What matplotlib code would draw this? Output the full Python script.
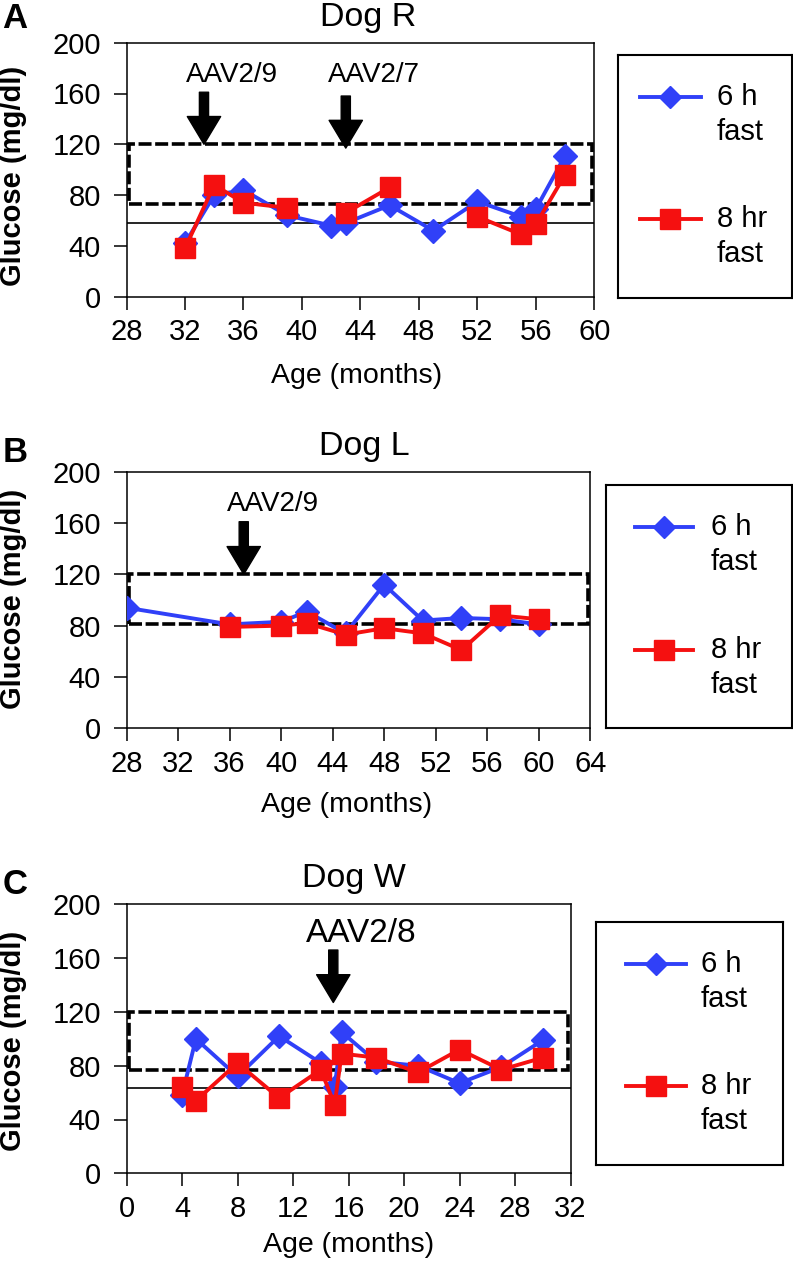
import numpy as np
import matplotlib
matplotlib.use('Agg')
import matplotlib.pyplot as plt
import matplotlib.transforms as mtransforms
from matplotlib.patches import Rectangle

plt.rcParams['font.family'] = ['Liberation Sans', 'DejaVu Sans']

# Dog R
r_age = [32, 34, 36, 39, 42, 43, 46, 49, 52, 55, 56, 58]
r_glu_6h = [42, 80, 84, 64, 56, 58, 72, 52, 75, 63, 69, 111]
r_glu_8h = [38, 88, 74, 70, np.nan, 66, 86, np.nan, 63, 49, 57, 96]

# Dog L
l_age = [28, 36, 40, 42, 45, 48, 51, 54, 57, 60]
l_glu_6h = [94, 81, 83, 91, 74, 112, 84, 86, 85, 81]
l_glu_8h = [np.nan, 79, 80, 82, 73, 78, 74, 61, 88, 85]

# Dog W
w_age = [4, 5, 8, 11, 14, 15, 15.5, 18, 21, 24, 27, 30]
w_glu_6h = [58, 100, 72, 102, 82, 64, 105, 83, 80, 67, 79, 99]
w_glu_8h = [64, 54, 82, 56, 77, 51, 89, 86, 75, 92, 77, 86]

# normal range (upper, lower) and solid reference line
r_range, l_range, w_range = (120, 73), (120, 81), (120, 77)
r_ref, w_ref = 58, 63.5

# injections: label, arrow x, label x, arrow top, arrow tip
r_shots = [('AAV2/9', 33.3, 35.2, 161, 120), ('AAV2/7', 43.0, 44.9, 158, 117)]
l_shots = [('AAV2/9', 37.1, 39.4, 161, 120)]
w_shots = [('AAV2/8', 14.9, 16.9, 166, 127)]

BLUE = '#3040F8'
RED = '#F51010'
W, H = 793, 1261

fig = plt.figure(figsize=(W / 100, H / 100), dpi=100)


def px_axes(x0, y0, x1, y1):
    return fig.add_axes([x0 / W, 1 - y1 / H, (x1 - x0) / W, (y1 - y0) / H])


def fig_text(x, y, s, **kw):
    fig.text(x / W, 1 - y / H, s, **kw)


def panel(box, legbox, legx, age, g6, g8, xlim, rng, ref, shots, shot_fs, title, letter,
          tpos, lpos, xlpos, ylpos):
    ax = px_axes(*box)
    ax.plot(age, g6, color=BLUE, lw=2.8, marker='D', ms=12, mec=BLUE, zorder=3)
    ax.plot(age, g8, color=RED, lw=2.8, marker='s', ms=14, mec=RED, zorder=4)
    ax.set_xlim(*xlim)
    ax.set_ylim(0, 200)
    ax.set_xticks(np.arange(xlim[0], xlim[1] + 1, 4))
    ax.set_yticks(np.arange(0, 201, 40))
    ax.tick_params(direction='out', length=9.5, width=1.1, labelsize=21)
    ax.tick_params(axis='y', pad=9)
    ax.tick_params(axis='x', pad=6)
    for sp in ax.spines.values():
        sp.set_linewidth(1.1)

    trans = mtransforms.blended_transform_factory(ax.transAxes, ax.transData)
    ax.add_patch(Rectangle((0.006, rng[1]), 0.989, rng[0] - rng[1], transform=trans,
                           fill=False, ec='black', lw=2.6, ls=(0, (3.6, 1.0)),
                           clip_on=False, zorder=2))
    if ref is not None:
        ax.axhline(ref, color='black', lw=1.2, zorder=1)

    for name, xa, xt, ytop, ytip in shots:
        ax.annotate('', xy=(xa, ytip), xytext=(xa, ytop),
                    arrowprops=dict(arrowstyle='simple,head_length=1.0,head_width=1.2,tail_width=0.33',
                                    mutation_scale=20, color='black', shrinkA=0, shrinkB=0))
        ax.text(xt, 174.6 if shot_fs < 22 else 178.4, name, fontsize=shot_fs, ha='center', va='center')

    fig_text(*tpos, title, fontsize=24.5, ha='center', va='baseline')
    fig_text(*lpos, letter, fontsize=25, fontweight='bold', ha='center', va='center')
    fig_text(*xlpos, 'Age (months)', fontsize=20.5, ha='center', va='baseline')
    fig_text(*ylpos, 'Glucose (mg/dl)', fontsize=21, fontweight='bold', rotation=90,
             ha='center', va='center')

    lax = px_axes(*legbox)
    lax.set_xlim(0, 1)
    lax.set_ylim(0, 1)
    lax.set_xticks([])
    lax.set_yticks([])
    for sp in lax.spines.values():
        sp.set_linewidth(1.5)
    x0, x1, xt = legx
    for yy, col, mk, ms, lab in [(0.828, BLUE, 'D', 11, '6 h'), (0.323, RED, 's', 14, '8 hr')]:
        lax.plot([x0, x1], [yy, yy], color=col, lw=2.8)
        lax.plot([(x0 + x1) / 2], [yy], color=col, marker=mk, ms=ms, mec=col)
        lax.text(xt, yy, lab, fontsize=21, ha='left', va='center')
        lax.text(xt, yy - 0.144, 'fast', fontsize=21, ha='left', va='center')
    return ax


panel((126.5, 42.7, 594.3, 296.7), (618, 55, 791.6, 297.7), (0.127, 0.476, 0.57),
      r_age, r_glu_6h, r_glu_8h, (28, 60), r_range, r_ref, r_shots, 20,
      'Dog R', 'A', (367.7, 26), (15, 18), (356.6, 383.3), (12.6, 175.8))
panel((126.5, 471.7, 590.3, 728.3), (605.5, 485, 791.6, 728.3), (0.157, 0.47, 0.565),
      l_age, l_glu_6h, l_glu_8h, (28, 64), l_range, None, l_shots, 20,
      'Dog L', 'B', (364, 455), (15, 452.5), (346.5, 811.7), (12.6, 599))
panel((126.5, 904.3, 570.6, 1173.3), (595.9, 921.7, 783, 1165), (0.16, 0.48, 0.56),
      w_age, w_glu_6h, w_glu_8h, (0, 32), w_range, w_ref, w_shots, 24,
      'Dog W', 'C', (354, 886.7), (15, 884), (349, 1252.5), (12.6, 1040.8))

fig.savefig('out.png', dpi=100)
